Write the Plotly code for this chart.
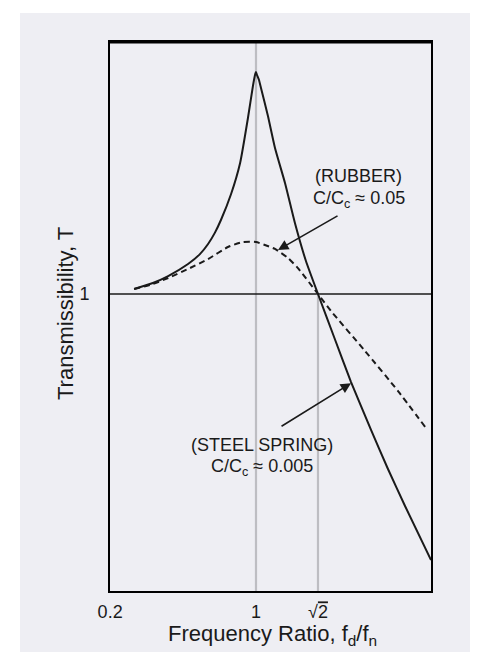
import math
import plotly.graph_objects as go

# ---- data ----
steel_x = [0.506, 0.562, 0.612, 0.684, 0.730, 0.765, 0.795, 0.822, 0.870, 0.915, 0.956, 0.983, 0.9944, 1.0, 1.0056,
           1.0169, 1.0283, 1.069, 1.112, 1.176, 1.243, 1.322, 1.414, 1.547, 1.701, 1.902, 2.091, 2.300, 2.660]
steel_y = [1.047, 1.107, 1.180, 1.318, 1.440, 1.585, 1.760, 1.977, 2.512, 3.342, 5.058, 6.792, 7.516, 7.727, 7.516,
           7.178, 6.668, 5.152, 3.837, 2.780, 1.923, 1.355, 1.0, 0.673, 0.4446, 0.2858, 0.1995, 0.1419, 0.0863]

rubber_x = [0.506, 0.562, 0.612, 0.684, 0.765, 0.855, 0.930, 1.0, 1.051, 1.112, 1.196, 1.264,
            1.414, 1.521, 1.839, 2.212, 2.586]
rubber_y = [1.047, 1.096, 1.159, 1.259, 1.380, 1.542, 1.614, 1.614, 1.570, 1.514, 1.393, 1.270,
            1.0, 0.855, 0.592, 0.409, 0.291]

x_tick_vals = [0.4425, 1.0, 1.414]
x_tick_text = ["0.2", "1", "√<span style='text-decoration:overline'>2</span>"]
y_tick_vals = [1.0]
y_tick_text = ["1"]

ref_x = [1.0, 1.414]   # vertical reference lines
ref_y = 1.0            # horizontal reference line

rubber_label = ["(RUBBER)", "C/C<sub>c</sub> ≈ 0.05"]
rubber_label_pos = [(1.778, 2.965), (1.778, 2.377)]
steel_label = ["(STEEL SPRING)", "C/C<sub>c</sub> ≈ 0.005"]
steel_label_pos = [(1.034, 0.2489), (1.034, 0.2014)]
rubber_arrow_tip = (1.131, 1.50)
steel_arrow_tip = (1.701, 0.440)

BG = "#EEEEF3"
INK = "#1a1a1a"
FONT = "Liberation Sans, Arial, sans-serif"
lg = math.log10

fig = go.Figure()
fig.add_trace(go.Scatter(x=rubber_x, y=rubber_y, mode="lines",
                         line=dict(color=INK, width=2, dash="6px,4px", shape="spline", smoothing=0.5),
                         hoverinfo="skip"))
fig.add_trace(go.Scatter(x=steel_x, y=steel_y, mode="lines",
                         line=dict(color=INK, width=2, shape="spline", smoothing=0.5),
                         hoverinfo="skip"))

L, R, T, B = 102, 55, 34, 69
W, H = 478, 652
pw, ph = W - L - R, H - T - B

def px2paper_x(px):
    return (px - L) / pw

def px2paper_y(py):
    return (H - B - py) / ph

shapes = [
    dict(type="rect", xref="paper", yref="paper", x0=px2paper_x(12), x1=px2paper_x(470),
         y0=px2paper_y(647), y1=px2paper_y(5), fillcolor=BG, line=dict(width=0), layer="below"),
    dict(type="line", xref="x", yref="paper", x0=ref_x[0], x1=ref_x[0], y0=0, y1=1,
         line=dict(color="#BDBDC2", width=2.2), layer="below"),
    dict(type="line", xref="x", yref="y", x0=ref_x[1], x1=ref_x[1], y0=0.0001, y1=ref_y,
         line=dict(color="#BDBDC2", width=2.2), layer="below"),
    dict(type="line", xref="paper", yref="y", x0=0, x1=1, y0=ref_y, y1=ref_y,
         line=dict(color=INK, width=1.3), layer="below"),
    dict(type="line", xref="paper", yref="paper", x0=0, x1=1, y0=1, y1=1,
         line=dict(color="#000000", width=3.2)),
]

def label(txt, pos):
    return dict(x=lg(pos[0]), y=lg(pos[1]), xref="x", yref="y", text=txt, showarrow=False,
                font=dict(size=18, color=INK, family=FONT))

annotations = [
    label(rubber_label[0], rubber_label_pos[0]),
    label(rubber_label[1], rubber_label_pos[1]),
    label(steel_label[0], steel_label_pos[0]),
    label(steel_label[1], steel_label_pos[1]),
    dict(x=lg(rubber_arrow_tip[0]), y=lg(rubber_arrow_tip[1]), xref="x", yref="y", text="",
         showarrow=True, ax=61, ay=-35, arrowhead=2, arrowsize=1.3, arrowwidth=1.6,
         arrowcolor=INK, standoff=0, startstandoff=0),
    dict(x=lg(steel_arrow_tip[0]), y=lg(steel_arrow_tip[1]), xref="x", yref="y", text="",
         showarrow=True, ax=-71, ay=44, arrowhead=2, arrowsize=1.3, arrowwidth=1.6,
         arrowcolor=INK, standoff=0, startstandoff=0),
    dict(x=px2paper_x(264), y=px2paper_y(627), xref="paper", yref="paper",
         text="Frequency Ratio, f<sub>d</sub>/f<sub>n</sub>", showarrow=False,
         font=dict(size=22, color=INK, family=FONT), xanchor="center", yanchor="middle"),
    dict(x=px2paper_x(57), y=px2paper_y(306), xref="paper", yref="paper",
         text="Transmissibility, T", showarrow=False, textangle=-90,
         font=dict(size=22, color=INK, family=FONT), xanchor="center", yanchor="middle"),
]

fig.update_layout(
    width=W, height=H,
    margin=dict(l=L, r=R, t=T, b=B, autoexpand=False),
    paper_bgcolor="white", plot_bgcolor="rgba(0,0,0,0)",
    showlegend=False,
    shapes=shapes, annotations=annotations,
    font=dict(family=FONT, color=INK),
)
fig.update_xaxes(type="log", range=[-0.3544, 0.4248], tickvals=x_tick_vals, ticktext=x_tick_text,
                 showgrid=False, zeroline=False, showline=True, linecolor="#000", linewidth=1.6,
                 mirror=True, ticks="outside", ticklen=4, tickcolor="rgba(0,0,0,0)",
                 tickfont=dict(size=18, color=INK, family=FONT))
fig.update_yaxes(type="log", range=[-1.188, 1.008], tickvals=y_tick_vals, ticktext=y_tick_text,
                 showgrid=False, zeroline=False, showline=True, linecolor="#000", linewidth=1.6,
                 mirror=True, ticks="outside", ticklen=15, tickcolor="rgba(0,0,0,0)",
                 tickfont=dict(size=18, color=INK, family=FONT))

fig.write_html("out.html")
